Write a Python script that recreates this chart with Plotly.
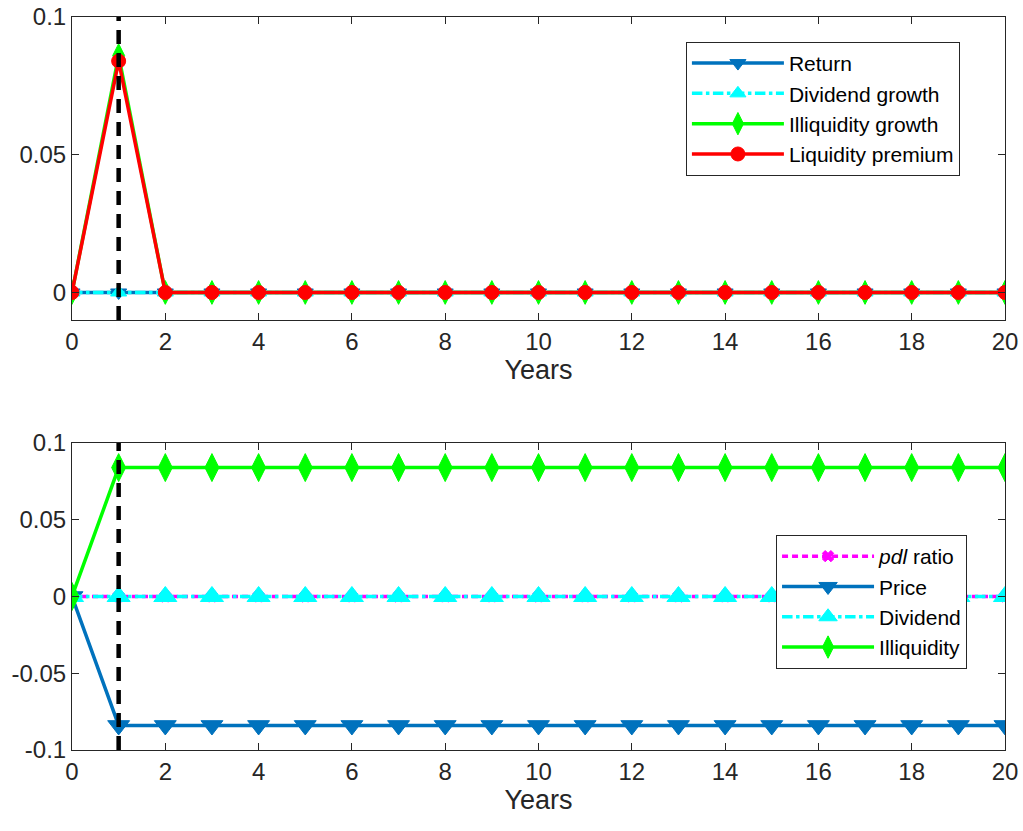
import plotly.graph_objects as go

years = list(range(0, 21))
shock_year = 1

# Top panel
ret = [0.0] * 21
div_growth = [0.0] * 21
illiq_growth = [0.0, 0.086] + [0.0] * 19
liq_premium = [0.0, 0.084] + [0.0] * 19

# Bottom panel
pdl_ratio = [0.0] * 21
price = [0.0] + [-0.084] * 20
dividend = [0.0] * 21
illiquidity = [0.0] + [0.084] * 20

BLUE = "#0072BD"
CYAN = "#00FFFF"
GREEN = "#00FF00"
RED = "#FF0000"
MAG = "#FF00FF"
AX = "#262626"
FONT = "Liberation Sans, Arial, sans-serif"

fig = go.Figure()

def add(x, y, name, color, dash, symbol, size, xa, ya, legend):
    fig.add_trace(go.Scatter(
        x=x, y=y, name=name, mode="lines+markers",
        line=dict(color=color, width=3.5, dash=dash),
        marker=dict(symbol=symbol, size=size, color=color,
                    line=dict(color=color, width=1)),
        xaxis=xa, yaxis=ya, legend=legend))

add(years, ret, "Return", BLUE, "solid", "triangle-down", 14, "x", "y", "legend")
add(years, div_growth, "Dividend growth", CYAN, "dashdot", "triangle-up", 14, "x", "y", "legend")
add(years, illiq_growth, "Illiquidity growth", GREEN, "solid", "diamond-tall", 17, "x", "y", "legend")
add(years, liq_premium, "Liquidity premium", RED, "solid", "circle", 14, "x", "y", "legend")

add(years, pdl_ratio, "<i>pdl</i> ratio", MAG, "6px,4px", "x", 10, "x2", "y2", "legend2")
add(years, price, "Price", BLUE, "solid", "triangle-down", 19, "x2", "y2", "legend2")
add(years, dividend, "Dividend", CYAN, "dashdot", "triangle-up", 20, "x2", "y2", "legend2")
add(years, illiquidity, "Illiquidity", GREEN, "solid", "diamond-tall", 20, "x2", "y2", "legend2")

for xr, yr, ymin, ymax in [("x", "y", -0.01, 0.1), ("x2", "y2", -0.1, 0.1)]:
    fig.add_shape(type="line", xref=xr, yref=yr, x0=shock_year, x1=shock_year,
                  y0=ymin, y1=ymax, line=dict(color="black", width=4.5, dash="14px,9px"))

xcommon = dict(range=[0, 20], tickvals=list(range(0, 21, 2)), ticks="inside",
               ticklen=7, tickcolor=AX, showline=True, linecolor=AX, linewidth=1,
               mirror="ticks", showgrid=False, zeroline=False, automargin=False,
               tickfont=dict(size=24, color=AX, family=FONT),
               title=dict(text="Years", font=dict(size=27, color=AX, family=FONT), standoff=4))
ycommon = dict(ticks="inside", ticklen=7, tickcolor=AX, showline=True, linecolor=AX,
               linewidth=1, mirror="ticks", showgrid=False, zeroline=False, automargin=False,
               tickfont=dict(size=24, color=AX, family=FONT))

legfont = dict(size=21, color="black", family=FONT)

fig.update_layout(
    width=1023, height=831,
    margin=dict(l=72, r=18, t=17, b=81),
    paper_bgcolor="white", plot_bgcolor="white",
    showlegend=True,
    xaxis=dict(**xcommon, domain=[0, 1], anchor="y"),
    yaxis=dict(**ycommon, domain=[0.5866, 1], range=[-0.01, 0.1],
               tickvals=[0, 0.05, 0.1], ticktext=["0", "0.05", "0.1"], anchor="x"),
    xaxis2=dict(**xcommon, domain=[0, 1], anchor="y2"),
    yaxis2=dict(**ycommon, domain=[0, 0.4188], range=[-0.1, 0.1],
                tickvals=[-0.1, -0.05, 0, 0.05, 0.1],
                ticktext=["-0.1", "-0.05", "0", "0.05", "0.1"], anchor="x2"),
    legend=dict(x=0.658, y=0.966, xanchor="left", yanchor="top",
                bgcolor="white", bordercolor=AX, borderwidth=1,
                font=legfont, tracegroupgap=0, itemwidth=92),
    legend2=dict(x=0.7546, y=0.2933, xanchor="left", yanchor="top",
                 bgcolor="white", bordercolor=AX, borderwidth=1,
                 font=legfont, tracegroupgap=0, itemwidth=92),
)

fig.write_html("out.html", config={"displayModeBar": False},
               post_script="document.body.style.margin='0';")
